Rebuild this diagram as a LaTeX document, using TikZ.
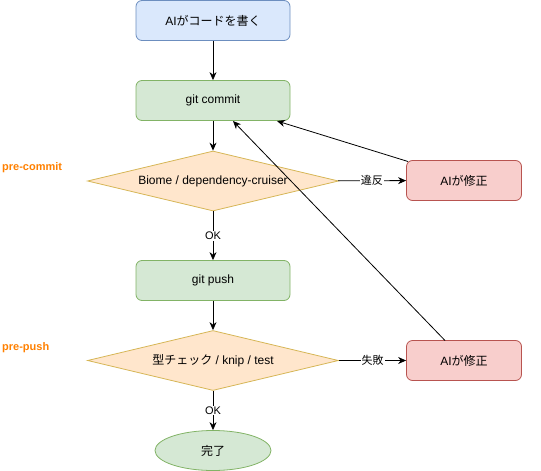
\documentclass[tikz,border=0pt]{standalone}
\usepackage{fontspec}
\setmainfont{Liberation Sans}
\newfontfamily\jp{Noto Sans CJK JP}
\usetikzlibrary{shapes.geometric,arrows.meta}
\definecolor{bfill}{HTML}{DAE8FC}\definecolor{bdraw}{HTML}{6C8EBF}
\definecolor{gfill}{HTML}{D5E8D4}\definecolor{gdraw}{HTML}{82B366}
\definecolor{ofill}{HTML}{FFE6CC}\definecolor{odraw}{HTML}{D6B656}
\definecolor{rfill}{HTML}{F8CECC}\definecolor{rdraw}{HTML}{B85450}
\definecolor{lbl}{HTML}{FF8000}
\tikzset{
  box/.style={rectangle,rounded corners=6pt,line width=0.8pt,minimum width=154pt,minimum height=40pt,inner sep=0pt,font=\fontsize{12}{14}\selectfont},
  bluebox/.style={box,fill=bfill,draw=bdraw},
  greenbox/.style={box,fill=gfill,draw=gdraw},
  redbox/.style={box,fill=rfill,draw=rdraw,minimum width=115pt},
  dia/.style={diamond,aspect=4.18,line width=0.8pt,fill=ofill,draw=odraw,inner sep=0pt,minimum width=251pt,minimum height=60pt,font=\fontsize{12}{14}\selectfont},
  endell/.style={ellipse,line width=0.8pt,fill=gfill,draw=gdraw,minimum width=116pt,minimum height=40pt,inner sep=0pt,font=\fontsize{12}{14}\selectfont},
  conn/.style={draw=black,line width=0.8pt,-{Stealth[length=8pt,width=7pt]}},
  elabel/.style={fill=white,inner sep=1pt,font=\fontsize{11}{13}\selectfont},
  stagelbl/.style={text=lbl,font=\bfseries\fontsize{11}{13}\selectfont,anchor=west,inner sep=0pt}
}
\begin{document}
\begin{tikzpicture}[x=1pt,y=-1pt]
\useasboundingbox (0,0) rectangle (541,471);
\node[bluebox] (write) at (213,20.5) {AI{\jp がコードを書く}};
\node[greenbox] (commit) at (213,100.5) {git commit};
\node[dia] (d1) at (213,181) {Biome / dependency-cruiser};
\node[redbox] (fix1) at (464,180.5) {AI{\jp が修正}};
\node[greenbox] (push) at (213,280.5) {git push};
\node[dia] (d2) at (213,360.5) {{\jp 型チェック} / knip / test};
\node[redbox] (fix2) at (464,360.5) {AI{\jp が修正}};
\node[endell] (done) at (213,450.5) {\jp 完了};
\node[stagelbl] (pc) at (2,168) {pre-commit};
\node[stagelbl] (pp) at (2,348) {pre-push};
\coordinate (c1) at (277,121);
\coordinate (c2) at (233,121);
\coordinate (f1) at (408,161.5);
\coordinate (f2) at (445,340.5);
\draw[conn] (write) -- (commit);
\draw[conn] (commit) -- (d1);
\draw[conn] (d1) -- node[elabel]{\jp 違反} (fix1);
\draw[conn] (d1) -- node[elabel]{OK} (push);
\draw[conn] (push) -- (d2);
\draw[conn] (d2) -- node[elabel]{\jp 失敗} (fix2);
\draw[conn] (d2) -- node[elabel]{OK} (done);
\draw[conn] (f1) -- (c1);
\draw[conn] (f2) -- (c2);
\end{tikzpicture}
\end{document}
